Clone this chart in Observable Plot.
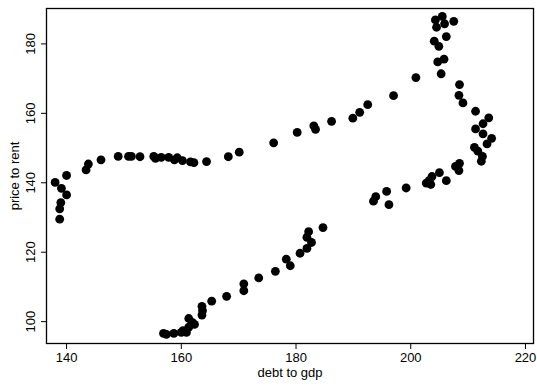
<!DOCTYPE html>
<html>
<head>
<meta charset="utf-8">
<script src="https://cdn.jsdelivr.net/npm/d3@7"></script>
<script src="https://cdn.jsdelivr.net/npm/@observablehq/plot@0.6"></script>
<style>
  html, body { margin: 0; padding: 0; background: #fff; }
  #chart svg { display: block; }
</style>
</head>
<body>
<div id="chart"></div>
<script>
// Debt-to-GDP ratio against the price-to-rent ratio, one point per period.
const debtToGdp = [
  156.9, 157.4, 158.7, 160.0, 160.3, 160.9, 161.3, 161.9, 162.3, 161.3,
  163.6, 163.7, 163.6, 165.3, 167.9, 170.9, 170.9, 173.5, 176.4, 179.0,
  178.3, 180.7, 181.9, 182.7, 181.9, 182.2, 184.7, 193.5, 193.9, 196.2,
  195.8, 199.2, 202.7, 203.5, 203.2, 203.7, 205.0, 206.2, 208.4, 207.8,
  208.5, 212.3, 212.5, 211.7, 211.1, 213.3, 214.1, 212.6, 211.3, 212.6,
  213.6, 211.3, 209.1, 208.4, 208.5, 205.3, 205.8, 204.7, 206.2, 204.9,
  204.1, 204.5, 204.3, 205.5, 205.9, 207.5, 200.9, 197.0, 192.5, 191.1,
  189.9, 186.2, 183.4, 183.1, 180.2, 176.1, 170.1, 168.2, 164.4, 162.2,
  161.6, 160.2, 159.3, 158.8, 157.8, 156.5, 155.5, 155.2, 152.8, 151.3,
  150.8, 149.0, 146.0, 143.8, 143.4, 140.0, 138.0, 139.1, 140.0, 139.0,
  138.8, 138.8
];
const priceToRent = [
  96.6, 96.3, 96.6, 96.9, 97.4, 96.9, 98.4, 99.8, 99.2, 100.9,
  101.9, 103.2, 104.4, 105.9, 107.3, 108.9, 110.9, 112.6, 114.5, 116.1,
  118.0, 119.7, 121.1, 122.8, 124.3, 125.9, 127.1, 134.7, 136.0, 133.7,
  137.5, 138.5, 139.9, 139.5, 140.6, 141.8, 142.9, 140.6, 143.5, 144.7,
  145.6, 146.2, 147.6, 149.1, 150.2, 151.2, 152.8, 154.1, 155.5, 157.0,
  158.7, 160.6, 163.0, 165.2, 168.3, 171.4, 175.6, 174.8, 182.1, 179.3,
  180.8, 184.8, 186.9, 187.9, 185.8, 186.5, 170.3, 165.1, 162.5, 160.3,
  158.6, 157.7, 155.4, 156.4, 154.5, 151.5, 148.8, 147.5, 146.1, 145.8,
  146.0, 146.4, 147.2, 146.6, 147.3, 147.3, 147.0, 147.6, 147.5, 147.6,
  147.6, 147.6, 146.6, 145.4, 143.7, 142.1, 140.1, 138.4, 136.5, 134.3,
  132.5, 129.5
];
const xTicks = [140, 160, 180, 200, 220];
const yTicks = [100, 120, 140, 160, 180];

const points = debtToGdp.map((d, i) => ({debt: d, price: priceToRent[i]}));

const fontFamily = "'Liberation Sans', Arial, Helvetica, sans-serif";

const chart = Plot.plot({
  width: 537,
  height: 386,
  marginLeft: 46,
  marginRight: 4,
  marginTop: 8,
  marginBottom: 43,
  style: {fontFamily, fontSize: "13px", color: "#000", background: "#fff"},
  x: {domain: [136.5, 221.4]},
  y: {domain: [93.7, 190.2]},
  marks: [
    Plot.frame({stroke: "#000", strokeWidth: 1.3}),
    Plot.axisX({
      ticks: xTicks, tickSize: 6, tickPadding: 3, fontSize: 13,
      label: "debt to gdp", labelAnchor: "center", labelArrow: "none", labelOffset: 33
    }),
    Plot.axisY({
      ticks: yTicks, tickSize: 5, tickPadding: 7, fontSize: 13, tickRotate: -90,
      label: "price to rent", labelAnchor: "center", labelArrow: "none", labelOffset: 37
    }),
    Plot.dot(points, {x: "debt", y: "price", r: 4.4, fill: "#000", stroke: "none"})
  ]
});

document.getElementById("chart").appendChild(chart);
</script>
</body>
</html>
